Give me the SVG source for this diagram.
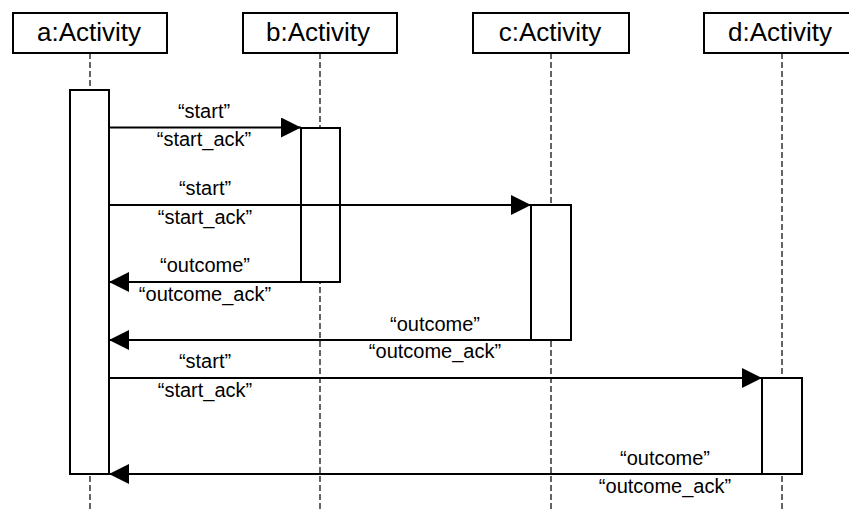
<svg xmlns="http://www.w3.org/2000/svg" width="849" height="509" viewBox="0 0 849 509">
<style>
.box{fill:#fff;stroke:#000;stroke-width:2}
.life{stroke:#111;stroke-width:1.3;stroke-dasharray:6 3;fill:none}
.hdr{font-family:"Liberation Sans",Arial,sans-serif;font-size:26px;text-anchor:middle;fill:#000}
.lbl{font-family:"Liberation Sans",Arial,sans-serif;font-size:20px;text-anchor:middle;fill:#000}
.msg{stroke:#000;stroke-width:2;fill:none}
</style>
<defs>
<marker id="ah" viewBox="0 0 20 20" refX="20" refY="10" markerWidth="20" markerHeight="20" markerUnits="userSpaceOnUse" orient="auto">
<path d="M0,0 L20,10 L0,20 Z" fill="#000"/>
</marker>
</defs>
<g id="lifelines">
<line class="life" x1="90" y1="53" x2="90" y2="509"/>
<line class="life" x1="320" y1="53" x2="320" y2="509"/>
<line class="life" x1="551" y1="53" x2="551" y2="509"/>
<line class="life" x1="782" y1="53" x2="782" y2="509"/>
</g>
<g id="a">
<rect class="box" x="13" y="13" width="154" height="40"/>
<text class="hdr" x="89" y="41">a:Activity</text>
<rect class="box" x="70" y="90" width="39" height="384"/>
</g>
<g id="b">
<rect class="box" x="243" y="13" width="154" height="40"/>
<text class="hdr" x="318" y="41">b:Activity</text>
<rect class="box" x="301" y="128" width="39" height="154"/>
</g>
<g id="c">
<rect class="box" x="473" y="13" width="156" height="40"/>
<text class="hdr" x="550" y="41">c:Activity</text>
<rect class="box" x="531" y="205" width="40" height="135"/>
</g>
<g id="d">
<rect class="box" x="704" y="13" width="147" height="40"/>
<text class="hdr" x="780" y="41">d:Activity</text>
<rect class="box" x="762" y="378" width="40" height="96"/>
</g>
<g id="connectors">
<line class="msg" x1="109" y1="127.5" x2="301" y2="127.5" marker-end="url(#ah)"/>
<text class="lbl" x="204" y="118">“start”</text>
<text class="lbl" x="204" y="146">“start_ack”</text>
<line class="msg" x1="109" y1="205" x2="531" y2="205" marker-end="url(#ah)"/>
<text class="lbl" x="205" y="195">“start”</text>
<text class="lbl" x="205" y="224">“start_ack”</text>
<line class="msg" x1="301" y1="282" x2="109" y2="282" marker-end="url(#ah)"/>
<text class="lbl" x="205" y="272">“outcome”</text>
<text class="lbl" x="205" y="301">“outcome_ack”</text>
<line class="msg" x1="531" y1="340" x2="109" y2="340" marker-end="url(#ah)"/>
<text class="lbl" x="435" y="331">“outcome”</text>
<text class="lbl" x="435" y="358">“outcome_ack”</text>
<line class="msg" x1="109" y1="378" x2="762" y2="378" marker-end="url(#ah)"/>
<text class="lbl" x="205" y="368">“start”</text>
<text class="lbl" x="205" y="397">“start_ack”</text>
<line class="msg" x1="762" y1="474" x2="109" y2="474" marker-end="url(#ah)"/>
<text class="lbl" x="665" y="465">“outcome”</text>
<text class="lbl" x="665" y="493">“outcome_ack”</text>
</g>
</svg>
